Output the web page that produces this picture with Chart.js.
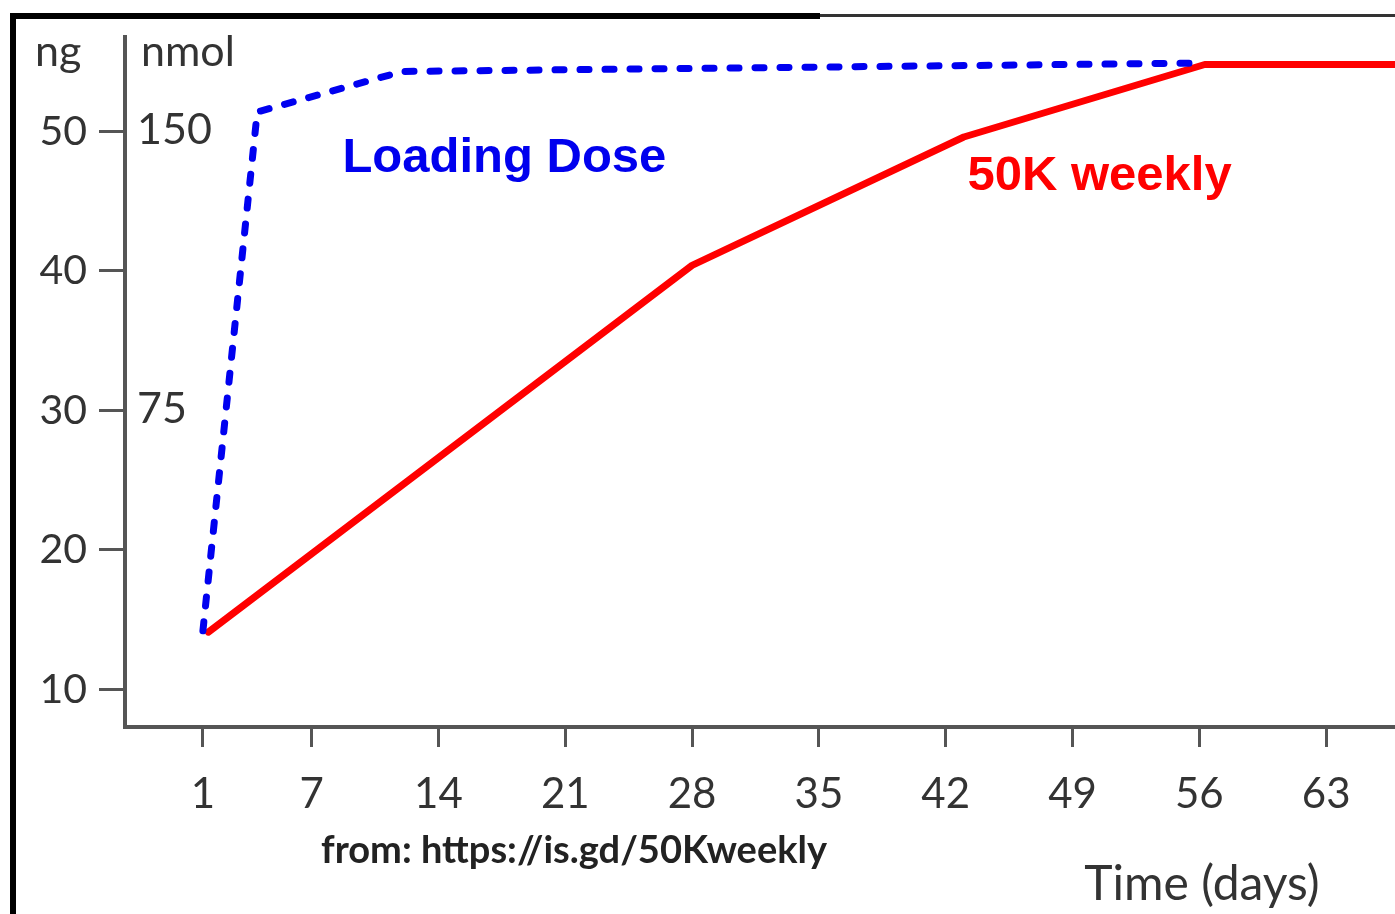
<!DOCTYPE html>
<html>
<head>
<meta charset="utf-8">
<script src="https://cdn.jsdelivr.net/npm/chart.js@4/dist/chart.umd.min.js"></script>
<style>
  html, body { margin: 0; padding: 0; background: #fff; }
  #wrap { width: 1395px; height: 914px; position: relative; }
</style>
</head>
<body>
<div id="wrap"><canvas id="chart"></canvas></div>
<script>
// данные
const doseDays = [1, 4, 12, 56];
const doseNg = [14.2, 51.4, 54.3, 54.9];
const weeklyDays = [1.3, 28, 43, 56.3, 66.8];
const weeklyNg = [14.1, 40.4, 49.6, 54.8, 54.8];

const dayTicks = [1, 7, 14, 21, 28, 35, 42, 49, 56, 63];
const ngTicks = [10, 20, 30, 40, 50];
// nmol подписи стоят на тех же местах, что и ng 50 и 30
const nmolTicks = [{ ng: 50, label: '150' }, { ng: 30, label: '75' }];

const tickFont = 'Lato, "Open Sans", sans-serif';
const gray = '#333';

// рамка, подписи и прочий текст поверх графика
const extras = {
    id: 'extras',
    afterDraw(chart) {
        const c = chart.ctx;
        const x = chart.scales.x, y = chart.scales.y;
        const area = chart.chartArea;
        c.save();

        // рамка слева и сверху
        c.fillStyle = '#000';
        c.fillRect(10, 13, 6, 914 - 13);
        c.fillRect(10, 13, 810, 6);
        c.fillStyle = '#333';
        c.fillRect(820, 14, 1395 - 820, 3);

        c.fillStyle = gray;
        c.font = '43px ' + tickFont;
        c.textBaseline = 'alphabetic';
        c.textAlign = 'left';
        c.fillText('ng', 35, area.top + 29);
        c.fillText('nmol', 141, area.top + 29);

        c.textBaseline = 'middle';
        nmolTicks.forEach(t => {
            c.fillText(t.label, 137, y.getPixelForValue(t.ng) - 1);
        });

        // подписи серий
        c.textBaseline = 'alphabetic';
        c.font = 'bold 49px "Liberation Sans", Arial, sans-serif';
        c.fillStyle = '#0000ee';
        c.fillText('Loading Dose', x.getPixelForValue(8.7), y.getPixelForValue(47.1));
        c.fillStyle = '#ff0000';
        c.fillText('50K weekly', x.getPixelForValue(43.2), y.getPixelForValue(45.8));

        // источник и подпись оси
        c.fillStyle = '#222';
        c.font = 'bold 38px ' + tickFont;
        c.textAlign = 'center';
        c.fillText('from: https://is.gd/50Kweekly', 574, 863);
        c.fillStyle = gray;
        c.font = '48px ' + tickFont;
        c.fillText('Time (days)', 1202, 900);

        c.restore();
    }
};

new Chart(document.getElementById('chart'), {
    type: 'line',
    data: {
        datasets: [{
            label: 'Loading Dose',
            data: doseDays.map((d, i) => ({ x: d, y: doseNg[i] })),
            borderColor: '#0000f0',
            borderWidth: 7,
            borderDash: [9, 16],
            borderCapStyle: 'round',
            borderJoinStyle: 'round',
            pointRadius: 0,
            tension: 0,
            fill: false
        }, {
            label: '50K weekly',
            data: weeklyDays.map((d, i) => ({ x: d, y: weeklyNg[i] })),
            borderColor: '#ff0000',
            borderWidth: 7,
            borderCapStyle: 'round',
            borderJoinStyle: 'round',
            pointRadius: 0,
            tension: 0,
            fill: false
        }]
    },
    options: {
        responsive: true,
        maintainAspectRatio: false,
        animation: false,
        layout: { padding: { top: 35, left: 0, right: 0, bottom: 0 } },
        plugins: {
            legend: { display: false },
            tooltip: { enabled: false }
        },
        scales: {
            x: {
                type: 'linear',
                min: -3.3,
                max: 66.8,
                afterBuildTicks: axis => { axis.ticks = dayTicks.map(v => ({ value: v })); },
                afterFit: axis => { axis.height = 187; },
                border: { display: true, color: '#555', width: 4 },
                grid: { drawOnChartArea: false, drawTicks: true, tickLength: 20, tickWidth: 3, color: '#555' },
                ticks: {
                    color: gray,
                    font: { family: tickFont, size: 42 },
                    padding: 22,
                    maxRotation: 0,
                    autoSkip: false
                }
            },
            y: {
                min: 7.3,
                max: 56.8,
                afterBuildTicks: axis => { axis.ticks = ngTicks.map(v => ({ value: v })); },
                afterFit: axis => { axis.width = 125; },
                border: { display: true, color: '#555', width: 4 },
                grid: { drawOnChartArea: false, drawTicks: true, tickLength: 26, tickWidth: 3, color: '#555' },
                ticks: {
                    color: gray,
                    font: { family: tickFont, size: 41 },
                    padding: 12
                }
            }
        }
    },
    plugins: [extras]
});
</script>
</body>
</html>
